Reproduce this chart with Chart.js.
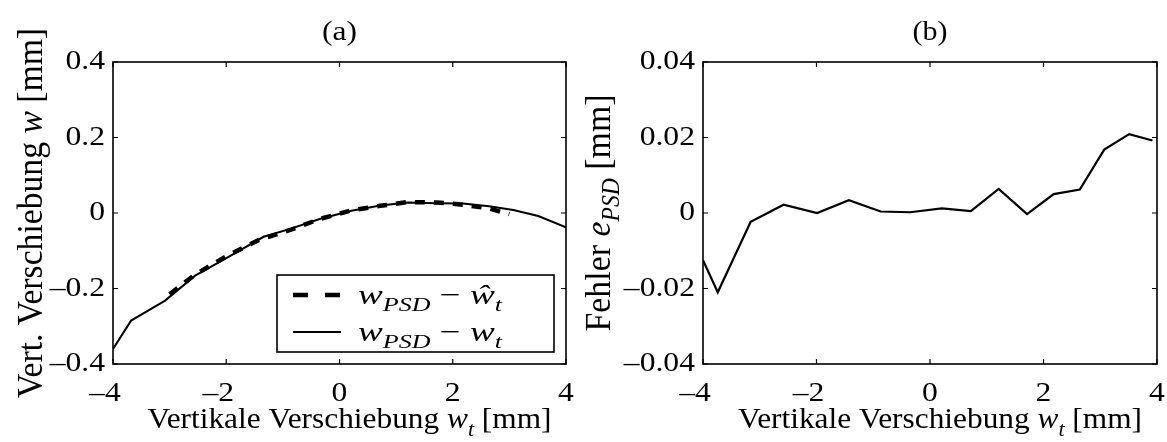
<!DOCTYPE html>
<html lang="de">
<head>
    <meta charset="UTF-8">
    <title>Verschiebung und Fehler</title>
    <script src="https://cdn.jsdelivr.net/npm/chart.js"></script>
    <style>
        body {
            margin: 0;
            background: #ffffff;
            width: 1167px;
            height: 442px;
            overflow: hidden;
            position: relative;
        }
        canvas {
            position: absolute;
            top: 0;
        }
        #chartA { left: 0; }
        #chartB { left: 580px; }
    </style>
</head>
<body>
    <canvas id="chartA" width="590" height="442"></canvas>
    <canvas id="chartB" width="587" height="442"></canvas>

    <script>
        // (a) w_PSD - w_t
        const solidX = [-4, -3.68, -3.08, -2.55, -1.99, -1.34, -0.87, -0.35, 0.21, 0.72, 1.21, 1.71, 2.18, 2.64, 3.07, 3.51, 4.0];
        const solidY = [-0.36, -0.285, -0.232, -0.166, -0.119, -0.063, -0.042, -0.016, 0.006, 0.02, 0.028, 0.026, 0.025, 0.018, 0.008, -0.008, -0.038];
        // (a) w_PSD - w^_t
        const dashX = [-3.0, -2.55, -1.99, -1.43, -0.87, -0.35, 0.21, 0.72, 1.21, 1.71, 2.18, 2.64, 3.0];
        const dashY = [-0.215, -0.163, -0.114, -0.072, -0.045, -0.016, 0.007, 0.019, 0.029, 0.028, 0.022, 0.012, -0.003];
        // (b) Fehler e_PSD
        const errX = [-4, -3.74, -3.16, -2.58, -1.99, -1.43, -0.87, -0.35, 0.21, 0.72, 1.21, 1.71, 2.18, 2.64, 3.07, 3.51, 3.92];
        const errY = [-0.0125, -0.021, -0.0023, 0.0022, 0.0, 0.0034, 0.0004, 0.0002, 0.0012, 0.0005, 0.0064, -0.0003, 0.005, 0.0062, 0.0168, 0.0209, 0.0192];

        const xTicks = [-4, -2, 0, 2, 4];
        const yTicksA = [-0.4, -0.2, 0, 0.2, 0.4];
        const yTicksB = [-0.04, -0.02, 0, 0.02, 0.04];

        const FONT = "'Liberation Serif', 'Times New Roman', serif";
        const TICK_SIZE = 28;
        const TICK_STRETCH = 1.13;

        function pts(xs, ys) {
            return xs.map((x, i) => ({ x: x, y: ys[i] }));
        }

        function fmt(v) {
            if (Math.abs(v) < 1e-9) return '0';
            return String(Math.abs(v));
        }

        function setFont(ctx, p, size) {
            const fs = p.sub ? size * 0.7 : size;
            ctx.font = (p.it ? 'italic ' : '') + fs + 'px ' + FONT;
        }

        function richWidth(ctx, parts, size) {
            let w = 0;
            parts.forEach(p => {
                setFont(ctx, p, size);
                w += ctx.measureText(p.t).width;
            });
            return w;
        }

        // text with italic parts and subscripts; stretched to a given width
        function drawRich(ctx, parts, x, y, size, align, width, thick) {
            const w = richWidth(ctx, parts, size);
            const sx = width ? width / w : 1;
            ctx.save();
            ctx.translate(x, y);
            ctx.scale(sx, thick || 1);
            let cx = align === 'center' ? -w / 2 : 0;
            ctx.textAlign = 'left';
            ctx.textBaseline = 'alphabetic';
            ctx.fillStyle = '#000';
            parts.forEach(p => {
                setFont(ctx, p, size);
                ctx.fillText(p.t, cx, p.sub ? size * 0.25 : 0);
                cx += ctx.measureText(p.t).width;
            });
            ctx.restore();
        }

        function drawNum(ctx, s, x, y, align, neg) {
            ctx.save();
            ctx.translate(x, y);
            ctx.scale(TICK_STRETCH, 1);
            ctx.font = TICK_SIZE + 'px ' + FONT;
            ctx.fillStyle = '#000';
            ctx.textBaseline = 'middle';
            const w = ctx.measureText(s).width;
            const mw = ctx.measureText('\u2013').width;
            let left = align === 'right' ? -w : -w / 2;
            ctx.textAlign = 'left';
            ctx.fillText(s, left, 0);
            if (neg) ctx.fillText('\u2013', left - mw, 0);
            ctx.restore();
        }

        // box with inward ticks on all four sides, tick labels, titles, legend
        const framePlugin = {
            id: 'frame',
            afterDraw(chart, args, opts) {
                const ctx = chart.ctx;
                const a = chart.chartArea;
                const xs = chart.scales.x, ys = chart.scales.y;
                ctx.save();
                ctx.strokeStyle = '#000';
                ctx.lineWidth = 1.6;
                ctx.setLineDash([]);
                ctx.strokeRect(a.left, a.top, a.right - a.left, a.bottom - a.top);
                ctx.lineWidth = 1.2;
                ctx.beginPath();
                xs.ticks.forEach(t => {
                    const px = xs.getPixelForValue(t.value);
                    ctx.moveTo(px, a.bottom); ctx.lineTo(px, a.bottom - 5);
                    ctx.moveTo(px, a.top); ctx.lineTo(px, a.top + 5);
                });
                ys.ticks.forEach(t => {
                    const py = ys.getPixelForValue(t.value);
                    ctx.moveTo(a.left, py); ctx.lineTo(a.left + 5, py);
                    ctx.moveTo(a.right, py); ctx.lineTo(a.right - 5, py);
                });
                ctx.stroke();

                xs.ticks.forEach(t => {
                    drawNum(ctx, fmt(t.value), xs.getPixelForValue(t.value), a.bottom + 30, 'center', t.value < 0);
                });
                ys.ticks.forEach(t => {
                    drawNum(ctx, fmt(t.value), a.left - 8, ys.getPixelForValue(t.value), 'right', t.value < 0);
                });

                const mid = (a.left + a.right) / 2;
                drawRich(ctx, [{ t: opts.panel }], mid, 40, 28, 'center', opts.panelW);

                drawRich(ctx, [
                    { t: 'Vertikale Verschiebung ' },
                    { t: 'w', it: true },
                    { t: 't', it: true, sub: true },
                    { t: ' [mm]' }
                ], mid + 10, 428, 30, 'center', 404);

                ctx.save();
                ctx.translate(opts.yTitleX, (a.top + a.bottom) / 2);
                ctx.rotate(-Math.PI / 2);
                drawRich(ctx, opts.yTitle, 0, 0, 29, 'center', opts.yTitleW, 1.22);
                ctx.restore();

                if (opts.legend) {
                    const lx = 277, ly = 275, lw = 277, lh = 77;
                    ctx.fillStyle = '#fff';
                    ctx.fillRect(lx, ly, lw, lh);
                    ctx.lineWidth = 1.6;
                    ctx.strokeRect(lx, ly, lw, lh);
                    ctx.lineWidth = 4.5;
                    ctx.setLineDash([15, 17]);
                    ctx.beginPath();
                    ctx.moveTo(293, 295); ctx.lineTo(341, 295);
                    ctx.stroke();
                    ctx.setLineDash([]);
                    ctx.lineWidth = 2;
                    ctx.beginPath();
                    ctx.moveTo(293, 332); ctx.lineTo(341, 332);
                    ctx.stroke();
                    drawRich(ctx, [
                        { t: 'w', it: true }, { t: 'PSD', it: true, sub: true },
                        { t: ' \u2212 ' }, { t: '\u0175', it: true }, { t: 't', it: true, sub: true }
                    ], 358, 304, 28, 'left', 144);
                    drawRich(ctx, [
                        { t: 'w', it: true }, { t: 'PSD', it: true, sub: true },
                        { t: ' \u2212 ' }, { t: 'w', it: true }, { t: 't', it: true, sub: true }
                    ], 358, 341, 28, 'left', 144);
                }
                ctx.restore();
            }
        };

        function makeOptions(yTicks, yWidth, rightPad, frameOpts) {
            return {
                responsive: false,
                animation: false,
                devicePixelRatio: 1,
                layout: { padding: { top: 62, right: rightPad, left: 0, bottom: 0 } },
                plugins: {
                    legend: { display: false },
                    tooltip: { enabled: false },
                    title: { display: false },
                    frame: frameOpts
                },
                elements: { point: { radius: 0 } },
                scales: {
                    x: {
                        type: 'linear',
                        min: -4, max: 4,
                        afterBuildTicks: s => { s.ticks = xTicks.map(v => ({ value: v })); },
                        afterFit: s => { s.height = 78; },
                        ticks: { display: false },
                        grid: { display: false, drawTicks: false },
                        border: { display: false }
                    },
                    y: {
                        min: yTicks[0], max: yTicks[yTicks.length - 1],
                        afterBuildTicks: s => { s.ticks = yTicks.map(v => ({ value: v })); },
                        afterFit: s => { s.width = yWidth; },
                        ticks: { display: false },
                        grid: { display: false, drawTicks: false },
                        border: { display: false }
                    }
                }
            };
        }

        new Chart(document.getElementById('chartA'), {
            type: 'line',
            data: {
                datasets: [
                    {
                        label: 'w_PSD - w^_t',
                        data: pts(dashX, dashY),
                        borderColor: '#000',
                        borderWidth: 4.5,
                        borderDash: [10, 9],
                        fill: false,
                        tension: 0
                    },
                    {
                        label: 'w_PSD - w_t',
                        data: pts(solidX, solidY),
                        borderColor: '#000',
                        borderWidth: 2,
                        fill: false,
                        tension: 0
                    }
                ]
            },
            options: makeOptions(yTicksA, 113, 24, {
                panel: '(a)',
                panelW: 35,
                yTitleX: 42,
                yTitleW: 370,
                yTitle: [
                    { t: 'Vert. Verschiebung ' },
                    { t: 'w', it: true },
                    { t: ' [mm]' }
                ],
                legend: true
            }),
            plugins: [framePlugin]
        });

        new Chart(document.getElementById('chartB'), {
            type: 'line',
            data: {
                datasets: [{
                    label: 'Fehler e_PSD',
                    data: pts(errX, errY),
                    borderColor: '#000',
                    borderWidth: 2.2,
                    fill: false,
                    tension: 0
                }]
            },
            options: makeOptions(yTicksB, 123, 10, {
                panel: '(b)',
                panelW: 35,
                yTitleX: 30,
                yTitleW: 237,
                yTitle: [
                    { t: 'Fehler ' },
                    { t: 'e', it: true },
                    { t: 'PSD', it: true, sub: true },
                    { t: ' [mm]' }
                ],
                legend: false
            }),
            plugins: [framePlugin]
        });
    </script>
</body>
</html>
